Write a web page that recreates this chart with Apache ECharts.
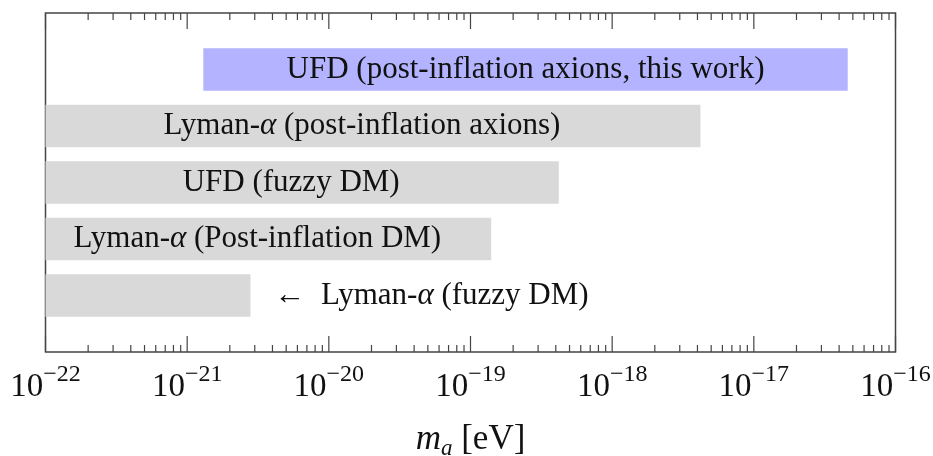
<!DOCTYPE html>
<html>
<head>
<meta charset="utf-8">
<script src="https://cdn.jsdelivr.net/npm/echarts@6/dist/echarts.min.js"></script>
<style>
html, body { margin: 0; padding: 0; background: #fff; }
#chart { width: 933px; height: 456px; }
</style>
</head>
<body>
<div id="chart"></div>
<script>
// Données (masse en eV)
const barNames = [
    'UFD (post-inflation axions, this work)',
    'Lyman-α (post-inflation axions)',
    'UFD (fuzzy DM)',
    'Lyman-α (Post-inflation DM)',
    'Lyman-α (fuzzy DM)'
];
const barStart = [1.3e-21, 7e-23, 7e-23, 7e-23, 7e-23];
const barEnd = [4.6e-17, 4.2e-18, 4.2e-19, 1.4e-19, 2.8e-21];
const barRow = [1, 2, 3, 4, 5];
const barColors = ['#b3b3ff', '#d9d9d9', '#d9d9d9', '#d9d9d9', '#d9d9d9'];
const labelSide = ['inside', 'inside', 'inside', 'inside', 'right'];

// Graduations : décades (majeures) et 2..9 x 10^k (mineures)
const decades = [-22, -21, -20, -19, -18, -17, -16];
const mantissas = [2, 3, 4, 5, 6, 7, 8, 9];
const tickMarks = [];
decades.forEach(function (k) {
    tickMarks.push([k, 16]);
    if (k < -16) {
        mantissas.forEach(function (m) { tickMarks.push([Math.log10(m * Math.pow(10, k)), 7]); });
    }
});

const FONT = '"Liberation Serif", "DejaVu Serif", serif';
const AXIS_COLOR = '#444';

// L'axe log d'ECharts arrondit les très petites valeurs : on travaille en log10
const lg = Math.log10;

// Texte riche : alpha en italique
function richLabel(name) {
    return name.split('α').map(function (p) { return p ? '{n|' + p + '}' : ''; }).join('{a|α}');
}

const labelRich = {
    n: { fontFamily: FONT, fontSize: 31, fill: '#111', color: '#111' },
    a: { fontFamily: FONT, fontSize: 31, fontStyle: 'italic', fill: '#111', color: '#111' }
};

const barData = barNames.map(function (name, i) {
    return [lg(barStart[i]), lg(barEnd[i]), barRow[i], i];
});

const chartDom = document.getElementById('chart');
const myChart = echarts.init(chartDom);

const option = {
    animation: false,
    grid: {
        left: 45.5,
        right: 37.5,
        top: 13,
        bottom: 104,
        outerBoundsMode: 'none',
        containLabel: false,
        show: true,
        borderColor: AXIS_COLOR,
        borderWidth: 1.5,
        backgroundColor: 'transparent'
    },
    xAxis: {
        type: 'value',
        min: -22,
        max: -16,
        interval: 1,
        axisLine: { show: false },
        axisTick: { show: false },
        splitLine: { show: false },
        axisLabel: {
            margin: 11,
            formatter: function (v) {
                return '{b|10}{e|−' + Math.abs(Math.round(v)) + '}';
            },
            rich: {
                b: { fontFamily: FONT, fontSize: 33, color: '#111', lineHeight: 48 },
                e: { fontFamily: FONT, fontSize: 24, color: '#111', lineHeight: 24, verticalAlign: 'top' }
            }
        },
        name: '{m|m}{s|a}{n| [eV]}',
        nameLocation: 'middle',
        nameGap: 68,
        nameTextStyle: {
            rich: {
                m: { fontFamily: FONT, fontSize: 35, fontStyle: 'italic', color: '#111', lineHeight: 40 },
                s: { fontFamily: FONT, fontSize: 23, fontStyle: 'italic', color: '#111', verticalAlign: 'bottom', lineHeight: 14 },
                n: { fontFamily: FONT, fontSize: 35, color: '#111', lineHeight: 40 }
            }
        }
    },
    yAxis: {
        type: 'value',
        min: 0,
        max: 6,
        inverse: true,
        show: false
    },
    series: [
        {
            type: 'custom',
            data: barData,
            renderItem: function (params, api) {
                const cs = params.coordSys;
                const row = api.value(2);
                const i = api.value(3);
                const p0 = api.coord([api.value(0), row]);
                const p1 = api.coord([api.value(1), row]);
                const h = api.size([0, 0.75])[1];
                const x0 = Math.max(p0[0], cs.x);
                let text = richLabel(barNames[i]);
                let tx = (p0[0] + p1[0]) / 2;
                let align = 'center';
                if (labelSide[i] === 'right') {
                    text = '{n|←  }' + text;
                    tx = p1[0] + 24;
                    align = 'left';
                }
                return {
                    type: 'group',
                    children: [
                        {
                            type: 'rect',
                            shape: { x: x0, y: p0[1] - h / 2, width: p1[0] - x0, height: h },
                            style: { fill: barColors[i] }
                        },
                        {
                            type: 'text',
                            style: {
                                text: text,
                                x: tx,
                                y: p0[1],
                                align: align,
                                verticalAlign: 'middle',
                                rich: labelRich
                            }
                        }
                    ]
                };
            }
        },
        {
            // graduations en haut et en bas, tournées vers l'intérieur
            type: 'custom',
            data: tickMarks,
            renderItem: function (params, api) {
                const cs = params.coordSys;
                const x = api.coord([api.value(0), 0])[0];
                const len = api.value(1);
                const style = { stroke: AXIS_COLOR, lineWidth: 1.2 };
                return {
                    type: 'group',
                    children: [
                        { type: 'line', shape: { x1: x, y1: cs.y + cs.height, x2: x, y2: cs.y + cs.height - len }, style: style },
                        { type: 'line', shape: { x1: x, y1: cs.y, x2: x, y2: cs.y + len }, style: style }
                    ]
                };
            }
        }
    ]
};

myChart.setOption(option);
</script>
</body>
</html>
